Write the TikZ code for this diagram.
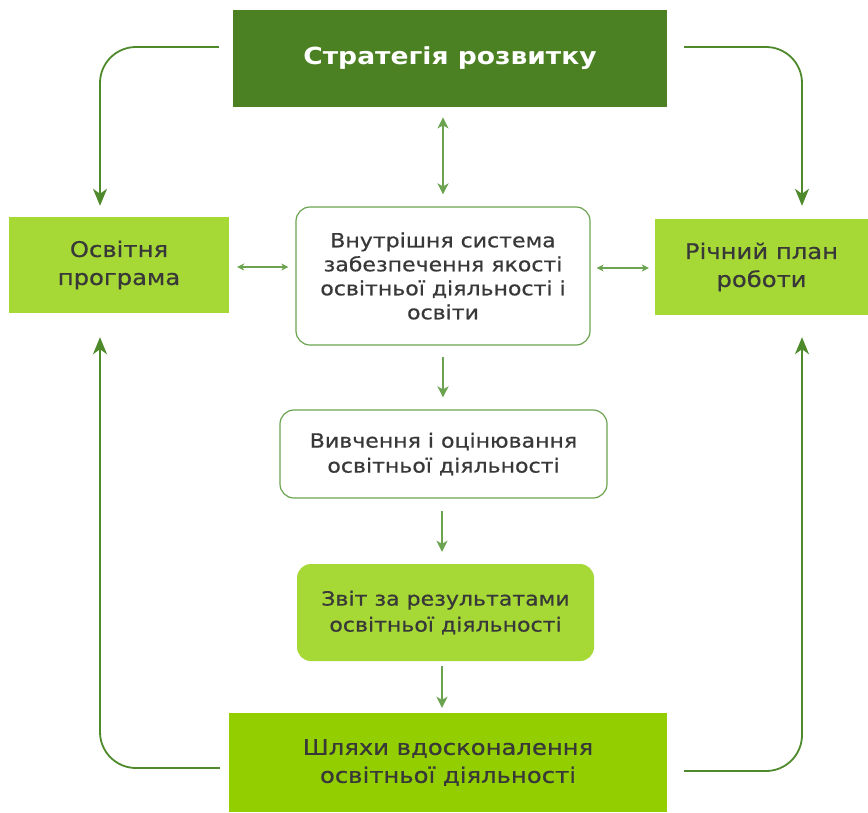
\documentclass[tikz,border=0pt]{standalone}
\usepackage{fontspec}
\setmainfont{DejaVu Sans}
\newfontfamily\bodyfont[FakeStretch=1.13,FakeBold=0.6]{DejaVu Sans}
\newfontfamily\headfont[FakeStretch=1.13]{DejaVu Sans}
\usetikzlibrary{arrows.meta,calc}
\definecolor{dgreen}{HTML}{4B8023}
\definecolor{lgreen}{HTML}{A6D836}
\definecolor{bgreen}{HTML}{93CF00}
\definecolor{lineg}{HTML}{4E8A2B}
\definecolor{inng}{HTML}{6BA350}
\definecolor{txt}{HTML}{383838}
\tikzset{
  boxbase/.style={inner sep=0pt, align=center, text=txt},
  sq/.style={boxbase, fill=lgreen},
  bigtext/.style={font=\bodyfont\fontsize{21.5}{28}\selectfont},
  midtext/.style={font=\bodyfont\fontsize{19.5}{25}\selectfont},
  rbox/.style={boxbase, rounded corners=14pt, draw=inng, line width=1.2pt, fill=white},
  outer/.style={draw=lineg, line width=1.8pt, rounded corners=36pt, -{Stealth[length=17pt,width=14pt,inset=5pt]}},
  inner/.style={draw=inng, line width=1.8pt, {Stealth[length=11pt,width=11pt,inset=3pt]}-{Stealth[length=11pt,width=11pt,inset=3pt]}},
  innerdown/.style={draw=inng, line width=1.8pt, -{Stealth[length=11pt,width=11pt,inset=3pt]}},
  small/.style={draw=inng, line width=1.1pt, {Stealth[length=7pt,width=7pt,inset=2pt]}-{Stealth[length=7pt,width=7pt,inset=2pt]}}
}
\begin{document}
\begin{tikzpicture}[x=1pt,y=-1pt]
\useasboundingbox[fill=white] (0,0) rectangle (868,812);
\node[boxbase, fill=dgreen, text=white, minimum width=434pt, minimum height=97pt, font=\headfont\fontsize{23.5}{28}\selectfont\bfseries] (title) at (450,58.5) {Стратегія розвитку};
\node[sq, minimum width=220pt, minimum height=96pt, bigtext] (left) at (119,265) {Освітня\\програма};
\node[sq, minimum width=213pt, minimum height=96pt, bigtext] (right) at (761.5,267) {Річний план\\роботи};
\node[rbox, minimum width=294pt, minimum height=138pt, font=\bodyfont\fontsize{19.5}{24}\selectfont] (center) at (443,276) {Внутрішня система\\забезпечення якості\\освітньої діяльності і\\освіти};
\node[rbox, minimum width=327pt, minimum height=88pt, midtext] (viv) at (443.5,454) {Вивчення і оцінювання\\освітньої діяльності};
\node[boxbase, fill=lgreen, rounded corners=14pt, minimum width=297pt, minimum height=97pt, font=\bodyfont\fontsize{19.5}{26}\selectfont] (zvit) at (445.5,612.5) {Звіт за результатами\\освітньої діяльності};
\node[boxbase, fill=bgreen, minimum width=438pt, minimum height=99pt, bigtext] (shl) at (448,762.5) {Шляхи вдосконалення\\освітньої діяльності};
% outer loops
\draw[outer] ($(title.west)+(-14,-11.5)$) -| ($(left.north)+(-19,-11)$);
\draw[outer] ($(title.east)+(17,-11.5)$) -| ($(right.north)+(40.5,-13)$);
\draw[outer] ($(shl.west)+(-9,5.5)$) -| ($(left.south)+(-19,24)$);
\draw[outer] ($(shl.east)+(17,8.5)$) -| ($(right.south)+(40.5,22)$);
% inner arrows
\draw[inner] ($(center.north)+(0,-89)$) -- ($(center.north)+(0,-12)$);
\draw[small] ($(left.east)+(8,2)$) -- ($(center.west)+(-7,-9)$);
\draw[small] ($(center.east)+(6,-8)$) -- ($(right.west)+(-6,1)$);
\draw[innerdown] ($(center.south)+(0,11)$) -- ($(viv.north)+(-0.5,-12)$);
\draw[innerdown] ($(viv.south)+(-1.5,12)$) -- ($(zvit.north)+(-3.5,-12)$);
\draw[innerdown] ($(zvit.south)+(-3.5,5)$) -- ($(shl.north)+(-6,-5)$);
\end{tikzpicture}
\end{document}
